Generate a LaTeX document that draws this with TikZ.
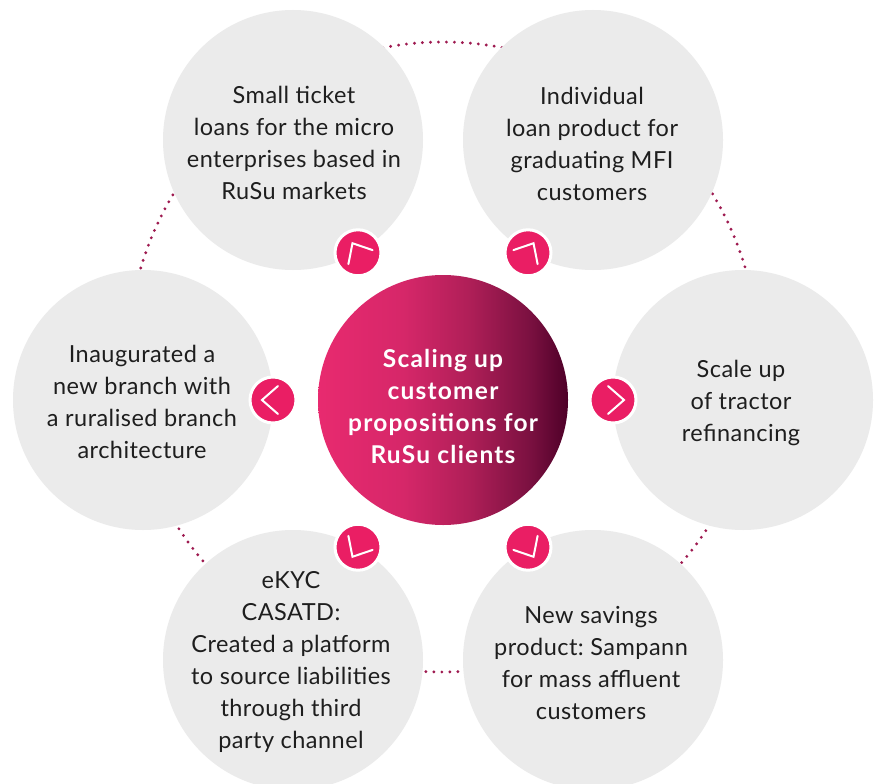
\documentclass[tikz,border=0pt]{standalone}
\usepackage{fontspec}
\setmainfont{Lato}
\usetikzlibrary{calc}
\frenchspacing
\definecolor{bubblegray}{HTML}{EBEBEB}
\definecolor{textdark}{HTML}{1E1E1E}
\definecolor{markpink}{HTML}{EA1E64}
\definecolor{dotcol}{HTML}{9E1A50}
\definecolor{hubA}{HTML}{E82A6F}
\definecolor{hubB}{HTML}{D62769}
\definecolor{hubC}{HTML}{B01F58}
\definecolor{hubD}{HTML}{7A1040}
\definecolor{hubE}{HTML}{4E0028}
\pgfdeclarehorizontalshading{hubshade}{100bp}{color(0bp)=(hubA); color(25bp)=(hubA); color(42bp)=(hubB); color(55bp)=(hubC); color(67.5bp)=(hubD); color(75bp)=(hubE); color(100bp)=(hubE)}
\newfontfamily\bodyfont[LetterSpace=2]{Lato}
\newfontfamily\hubfont[LetterSpace=5,BoldFont={Lato Bold}]{Lato}
\newcommand{\chevronmark}[2]{%
  \draw[chev] ($(#1)+(#2+180:5pt)+(#2+90:14pt)$) -- ($(#1)+(#2:11pt)$) -- ($(#1)+(#2+180:5pt)+(#2-90:14pt)$);}
\begin{document}
\begin{tikzpicture}[x=1pt,y=-1pt,
  bubble/.style={circle,fill=bubblegray,minimum size=260pt,inner sep=0pt},
  btext/.style={align=center,font=\frenchspacing\bodyfont\fontsize{23.5}{32}\selectfont,text=textdark,inner sep=0pt},
  hubstyle/.style={circle,minimum size=250pt,inner sep=0pt,shading=hubshade},
  hubtext/.style={align=center,text=white,inner sep=0pt,font=\hubfont\bfseries\fontsize{24.5}{32}\selectfont},
  marker/.style={circle,fill=markpink,draw=white,line width=3pt,minimum size=46pt,inner sep=0pt},
  chev/.style={draw=white,line width=2pt,line cap=round,line join=miter},
  ringdots/.style={draw=dotcol,line width=3.2pt,line cap=round,dash pattern=on 0pt off 8pt}
]
\useasboundingbox (0,0) rectangle (875,784);
\clip (0,0) rectangle (875,784);
\fill[white] (0,0) rectangle (875,784);
\coordinate (ringc) at (443,357);
\draw[ringdots] (ringc) circle[radius=315];
\node[bubble] (tl) at (293,140) {};
\node[bubble] (tr) at (593,140) {};
\node[bubble] (l) at (143,400) {};
\node[bubble] (r) at (743,400) {};
\node[bubble] (bl) at (293,660) {};
\node[bubble] (br) at (593,660) {};
\node[btext] (tlt) at (294,143) {Small ticket\\loans for the micro\\enterprises based in\\RuSu markets};
\node[btext] (trt) at (592,144) {Individual\\loan product for\\graduating MFI\\customers};
\node[btext] (lt) at (142,402) {Inaugurated a\\new branch with\\a ruralised branch\\architecture};
\node[btext] (rt) at (741,403) {Scale up\\of tractor\\refinancing};
\node[btext] (blt) at (291,662) {eKYC\\CASATD:\\Created a platform\\to source liabilities\\through third\\party channel};
\node[btext] (brt) at (591,663) {New savings\\product: Sampann\\for mass affluent\\customers};
\node[hubstyle] (hub) at (443,400) {};
\node[hubtext] (hubt) at (443,406) {Scaling up\\customer\\propositions for\\RuSu clients};
\foreach \n/\a in {mtl/120,mtr/60,ml/180,mr/0,mbl/240,mbr/300}{
  \node[marker] (\n) at ($(hub.center)+(\a:170pt)$) {};
  \chevronmark{\n}{\a}
}
\end{tikzpicture}
\end{document}
